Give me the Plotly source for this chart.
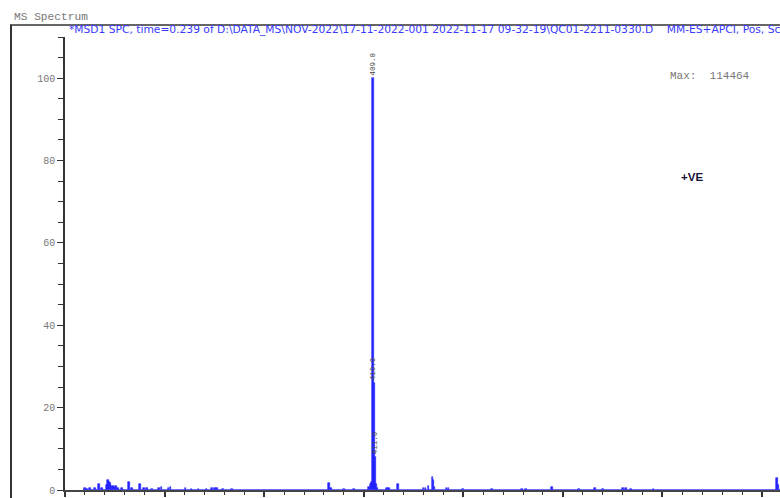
import plotly.graph_objects as go

# ---- data (m/z, relative abundance %) ----
mz = [120, 122, 125, 130, 134, 137, 142, 143, 144, 145, 146, 148, 149, 151, 153, 157,
      164, 167, 175, 179, 182, 187, 194, 197, 204, 206, 221, 227, 234, 242, 248, 251,
      253, 259, 268, 365, 367, 380, 390, 405, 407, 408, 409, 410, 411, 412, 413, 423,
      425, 434, 460, 462, 465, 469, 470, 471, 483, 485, 500, 529, 559, 563, 589, 616,
      632, 640, 660, 663, 668, 691, 815, 816]
abund = [0.4, 0.3, 0.4, 0.4, 1.4, 0.5, 1.2, 2.4, 2.0, 1.6, 1.0, 0.9, 0.7, 1.0, 0.6, 0.5,
         1.9, 0.5, 1.4, 0.4, 0.4, 0.3, 0.5, 0.8, 0.6, 0.8, 0.5, 0.3, 0.3, 0.3, 0.5, 0.6,
         0.5, 0.3, 0.3, 1.6, 0.4, 0.3, 0.3, 0.8, 1.5, 2.0, 100, 26, 8, 1.5, 0.6, 0.4,
         0.4, 1.4, 0.4, 0.5, 1.0, 3.1, 2.4, 0.8, 0.5, 0.4, 0.3, 0.3, 0.3, 0.3, 0.8, 0.3,
         0.5, 0.3, 0.4, 0.4, 0.3, 0.3, 2.8, 1.2]
scan_range = [118, 820]
label_mz = [409, 410, 411]
label_val = [100, 26, 8]
label_txt = ["409.0", "410.0", "411.0"]
x_ticks = [100, 200, 300, 400, 500, 600, 700, 800]
y_ticks = [0, 20, 40, 60, 80, 100]
max_text = "Max:  114464"
title_text = "MS Spectrum"
sub_text = ("*MSD1 SPC, time=0.239 of D:\\DATA_MS\\NOV-2022\\17-11-2022-001 2022-11-17 "
            "09-32-19\\QC01-2211-0330.D    MM-ES+APCI, Pos, Scan, Frag: 70")
polarity = "+VE"

W, H = 780, 498
L, R, T, B = 65, 0, 37, 8
pw, ph = W - L - R, H - T - B


def xp(px):
    return (px - L) / pw


def yp(py):
    return (H - B - py) / ph


blue = "#2424ff"
fig = go.Figure()
fig.add_trace(go.Scatter(x=scan_range, y=[0, 0], mode="lines",
                         line=dict(color="#3c3cff", width=1.5), hoverinfo="skip"))
fig.add_trace(go.Bar(x=mz, y=abund, width=1.8, marker=dict(color=blue, line=dict(color=blue, width=0.6))))

mono = "Liberation Mono"
annotations = []
for m, v, t in zip(label_mz, label_val, label_txt):
    annotations.append(dict(x=m, y=v, xref="x", yref="y", text=t, showarrow=False,
                            textangle=-90, xanchor="center", yanchor="bottom", yshift=1,
                            font=dict(family=mono, size=7.5, color="#4a4a4a")))
annotations += [
    dict(x=xp(12), y=yp(17), xref="paper", yref="paper", text=title_text, showarrow=False,
         xanchor="left", yanchor="middle", font=dict(family=mono, size=11.2, color="#777777")),
    dict(x=xp(67), y=yp(30), xref="paper", yref="paper", text=sub_text, showarrow=False,
         xanchor="left", yanchor="middle", font=dict(family="DejaVu Sans", size=10.7, color="#3a3aff")),
    dict(x=xp(668), y=yp(76), xref="paper", yref="paper", text=max_text, showarrow=False,
         xanchor="left", yanchor="middle", font=dict(family=mono, size=11, color="#777777")),
    dict(x=xp(679), y=yp(177), xref="paper", yref="paper", text="<b>" + polarity + "</b>", showarrow=False,
         xanchor="left", yanchor="middle", font=dict(family="Liberation Sans", size=11.5, color="#14143a")),
]

shapes = [
    dict(type="line", xref="paper", yref="paper", x0=xp(11), x1=xp(11), y0=yp(25), y1=yp(H + 5),
         line=dict(color="#333333", width=2)),
    dict(type="line", xref="paper", yref="paper", x0=xp(10), x1=xp(W + 5), y0=yp(25), y1=yp(25),
         line=dict(color="#333333", width=1.6)),
]

fig.update_layout(
    width=W, height=H, autosize=False,
    margin=dict(l=L, r=R, t=T, b=B, autoexpand=False),
    paper_bgcolor="white", plot_bgcolor="white", showlegend=False,
    bargap=0, annotations=annotations, shapes=shapes,
    xaxis=dict(range=[100, 818], tickvals=x_ticks, ticktext=[str(v) for v in x_ticks],
               ticks="outside", ticklen=5, tickwidth=1.5, tickcolor="#333333",
               showline=True, linecolor="#444444", linewidth=1.5, showgrid=False, zeroline=False,
               minor=dict(dtick=20, ticks="outside", ticklen=3, tickcolor="#333333", tickwidth=1.2),
               tickfont=dict(family=mono, size=10, color="#8a7a6a")),
    yaxis=dict(range=[0, 110], tickvals=y_ticks, ticktext=[str(v) for v in y_ticks],
               ticks="outside", ticklen=6, tickwidth=1.2, tickcolor="#333333",
               showline=True, linecolor="#333333", linewidth=1.5, showgrid=False, zeroline=False,
               minor=dict(dtick=5, ticks="outside", ticklen=5, tickcolor="#333333", tickwidth=1.2),
               tickfont=dict(family=mono, size=10, color="#777777")),
)

fig.write_html("out.html", config={"displayModeBar": False, "responsive": False},
               post_script="document.body.style.margin='0';document.body.style.overflow='hidden';")
